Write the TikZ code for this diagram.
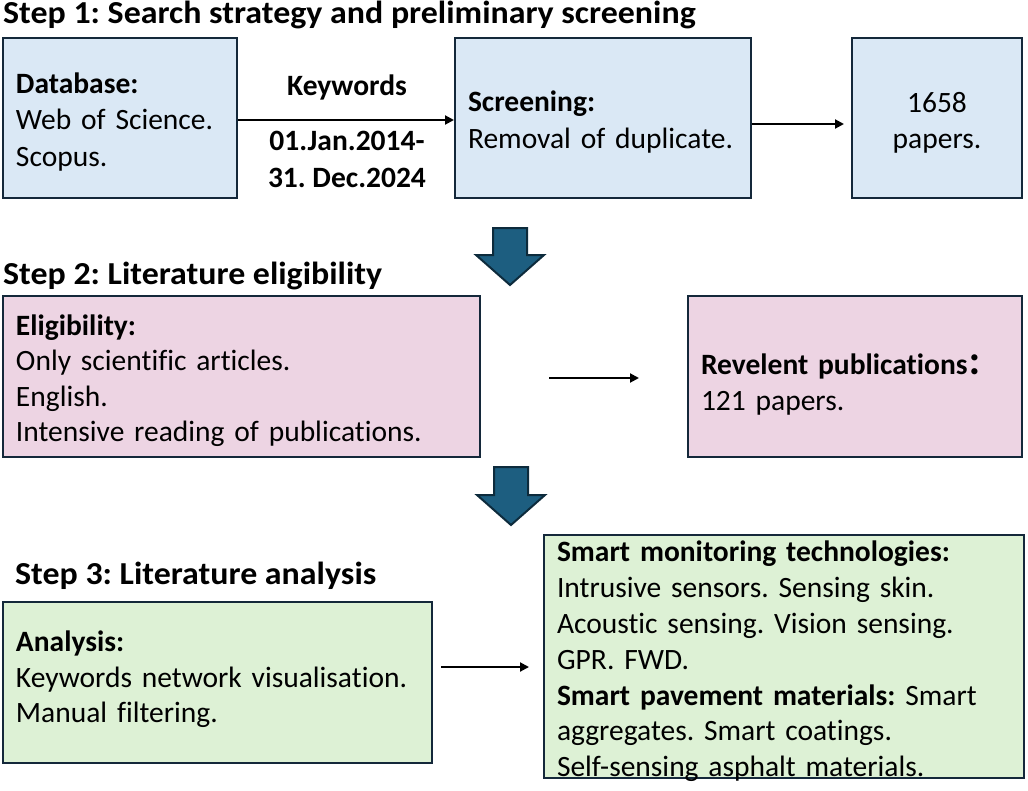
\documentclass[tikz,border=0pt]{standalone}
\usepackage{fontspec}
\setmainfont{Carlito}[Ligatures=NoCommon]
\newfontfamily\ttlfont{Carlito}[FakeStretch=1.06, Ligatures=NoCommon]
\newfontfamily\cjk{Noto Sans CJK SC}
\usetikzlibrary{arrows.meta,calc}
\definecolor{bluefill}{HTML}{DAE8F5}
\definecolor{pinkfill}{HTML}{EDD4E3}
\definecolor{greenfill}{HTML}{DDF1D5}
\definecolor{edgecol}{HTML}{14283A}
\definecolor{bigarrow}{HTML}{1D5E80}
\definecolor{bigarrowedge}{HTML}{0D2B3C}
\tikzset{
  box/.style={draw=edgecol, line width=2pt, rectangle, inner sep=0pt},
  txt/.style={inner xsep=0pt, inner ysep=0pt, align=left, font=\frenchspacing\fontsize{29.5}{36.5}\selectfont},
  ttl/.style={anchor=base west, inner sep=0pt, font=\frenchspacing\ttlfont\fontsize{32}{36}\selectfont\bfseries},
  lbl/.style={inner sep=0pt, align=center, font=\frenchspacing\fontsize{29.5}{37}\selectfont\bfseries},
  arr/.style={-{Triangle[length=9pt,width=9pt]}, line width=2pt, black},
  blockarrow/.style={fill=bigarrow, draw=bigarrowedge, line width=2pt, line join=miter}
}
\begin{document}
\begin{tikzpicture}[x=1pt,y=-1pt]
\useasboundingbox (0,0) rectangle (1028,790);
% titles
\node[ttl] (t1) at (3,23) {Step 1: Search strategy and preliminary screening};
\node[ttl] (t2) at (3,284) {Step 2: Literature eligibility};
\node[ttl] (t3) at (15,584) {Step 3: Literature analysis};
% step 1
\node[box, fill=bluefill, minimum width=234pt, minimum height=160pt] (db) at (120,118) {};
\node[txt, text width=208pt] (dbt) at ($(db.center)+(0,4)$)
  {\textbf{Database:}\\Web of Science.\\Scopus.};
\node[box, fill=bluefill, minimum width=296pt, minimum height=160pt] (scr) at (603,118) {};
\node[txt, text width=270pt] (scrt) at ($(scr.center)+(0,4)$)
  {\textbf{Screening:}\\Removal of duplicate.};
\node[box, fill=bluefill, minimum width=170pt, minimum height=160pt] (n1658) at (937,118) {};
\node[txt, align=center] (n1658t) at ($(n1658.center)+(0,5)$) {1658\\papers.};
\node[lbl] (kw) at (347,87) {Keywords};
\node[lbl] (dates) at (347,159.5) {01.Jan.2014-\\31. Dec.2024};
\draw[arr] ([yshift=-2pt]db.east) -- ([yshift=-2pt]db.east -| scr.west);
\draw[arr, shorten >=7pt] ([yshift=-6pt]scr.east) -- ([yshift=-6pt]scr.east -| n1658.west);
% big arrow 1
\draw[blockarrow] (493,228) -- (527,228) -- (527,255) -- (544,255) -- (510,285) -- (476,255) -- (493,255) -- cycle;
% step 2
\node[box, fill=pinkfill, minimum width=477pt, minimum height=161pt] (el) at (241.5,376.5) {};
\node[txt, text width=451pt, font=\frenchspacing\fontsize{29.5}{35.5}\selectfont] (elt) at ($(el.center)+(0,4)$)
  {\textbf{Eligibility:}\\Only scientific articles.\\English.\\Intensive reading of publications.};
\node[box, fill=pinkfill, minimum width=334pt, minimum height=161pt] (rel) at (855,376.5) {};
\node[txt, text width=308pt] (relt) at ($(rel.center)+(0,8)$)
  {\textbf{Revelent publications{\cjk ：}}\\121 papers.};
\draw[arr, shorten <=68pt, shorten >=48pt] ([yshift=-1.5pt]el.east) -- ([yshift=-1.5pt]el.east -| rel.west);
% big arrow 2
\draw[blockarrow] (494,467) -- (528,467) -- (528,495) -- (545,495) -- (511,525) -- (477,495) -- (494,495) -- cycle;
% step 3
\node[box, fill=greenfill, minimum width=429pt, minimum height=161pt] (an) at (217.5,682.5) {};
\node[txt, text width=403pt, font=\frenchspacing\fontsize{29.5}{35.5}\selectfont] (ant) at ($(an.center)+(0,-3)$)
  {\textbf{Analysis:}\\Keywords network visualisation.\\Manual filtering.};
\node[box, fill=greenfill, minimum width=480pt, minimum height=243pt] (sm) at (784,656.5) {};
\node[txt, text width=454pt, font=\frenchspacing\fontsize{29.5}{35.8}\selectfont] (smt) at ($(sm.center)+(0,5)$)
  {\textbf{Smart monitoring technologies:}\\Intrusive sensors. Sensing skin.\\Acoustic sensing. Vision sensing.\\GPR. FWD.\\\textbf{Smart pavement materials:} Smart\\aggregates. Smart coatings.\\Self-sensing asphalt materials.};
\draw[arr, shorten <=8pt, shorten >=14pt] ([yshift=15.5pt]an.east) -- ([yshift=15.5pt]an.east -| sm.west);
\end{tikzpicture}
\end{document}
